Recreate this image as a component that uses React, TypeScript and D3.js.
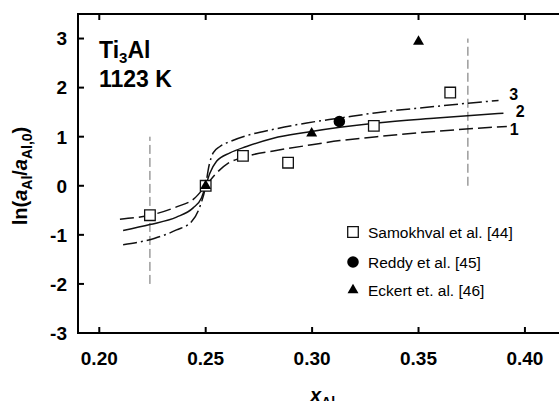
import React from "react";
import * as d3 from "d3";

const W = 559;
const H = 401;

const xTicks = [0.2, 0.25, 0.3, 0.35, 0.4];
const xTickLabels = ["0.20", "0.25", "0.30", "0.35", "0.40"];
const yTicks = [-3, -2, -1, 0, 1, 2, 3];
const yTickLabels = ["-3", "-2", "-1", "0", "1", "2", "3"];

// Model curves: [x_Al, ln(a/a0)]
const curve1: [number, number][] = [
  [0.2097, -0.68], [0.2238, -0.6], [0.2363, -0.43], [0.2449, -0.25], [0.25, 0.0],
  [0.2551, 0.26], [0.2606, 0.46], [0.2661, 0.56], [0.2708, 0.62], [0.2818, 0.71],
  [0.2975, 0.82], [0.3131, 0.92], [0.3304, 1.0], [0.3586, 1.11], [0.3915, 1.21],
];
const curve2: [number, number][] = [
  [0.2112, -0.91], [0.2238, -0.79], [0.2363, -0.64], [0.2441, -0.45], [0.248, -0.25],
  [0.25, 0.0], [0.252, 0.26], [0.2551, 0.5], [0.2614, 0.67], [0.2692, 0.8],
  [0.2818, 0.97], [0.2975, 1.09], [0.3131, 1.19], [0.3304, 1.28], [0.3586, 1.38],
  [0.3899, 1.48],
];
const curve3: [number, number][] = [
  [0.2112, -1.2], [0.2261, -1.07], [0.2363, -0.9], [0.2434, -0.73], [0.2473, -0.42],
  [0.25, 0.0], [0.2512, 0.33], [0.2535, 0.67], [0.2567, 0.8], [0.2614, 0.9],
  [0.2692, 1.02], [0.2818, 1.15], [0.2975, 1.28], [0.3131, 1.38], [0.3304, 1.49],
  [0.3586, 1.62], [0.3876, 1.74],
];
const curveLabels = ["1", "2", "3"];
const curveLabelPos: [number, number][] = [[0.395, 1.16], [0.3978, 1.52], [0.3947, 1.87]];

const samokhval: [number, number][] = [
  [0.2238, -0.6], [0.25, 0.0], [0.2675, 0.61], [0.2887, 0.47], [0.329, 1.22], [0.3649, 1.9],
];
const reddy: [number, number][] = [[0.3128, 1.31]];
const eckert: [number, number][] = [[0.25, 0.0], [0.2998, 1.07], [0.35, 2.94]];

const guideLines: [number, number, number][] = [
  [0.2238, -2, 1],
  [0.3732, 0, 3],
];

const legendNames = ["Samokhval et al. [44]", "Reddy et al. [45]", "Eckert et. al. [46]"];

const FONT = "'Liberation Sans', Arial, Helvetica, sans-serif";

export default function App() {
  const left = 78, right = 567.5, top = 14, bottom = 333;
  const x = d3.scaleLinear().domain([0.19, 0.42]).range([left, right]);
  const y = d3.scaleLinear().domain([-3, 3.5]).range([bottom, top]);

  const line = d3
    .line<[number, number]>()
    .x((d) => x(d[0]))
    .y((d) => y(d[1]))
    .curve(d3.curveMonotoneX);

  const sq = d3.symbol().type(d3.symbolSquare).size(112)();
  const circ = d3.symbol().type(d3.symbolCircle).size(105)();
  const tri = d3.symbol().type(d3.symbolTriangle).size(52)();

  const curves = [
    { data: curve1, dash: "14,5" },
    { data: curve2, dash: "none" },
    { data: curve3, dash: "14,4,2,4" },
  ];

  const tickLen = 6;
  const legX = 353;
  const legY = [232, 262, 290];

  return (
    <svg
      width={W}
      height={H}
      style={{ position: "absolute", left: 0, top: 0, background: "#fff" }}
      fontFamily={FONT}
    >
      <rect x={0} y={0} width={W} height={H} fill="#fff" />
      {/* guide lines */}
      {guideLines.map((g, i) => (
        <line
          key={"g" + i}
          x1={x(g[0])}
          x2={x(g[0])}
          y1={y(g[1])}
          y2={y(g[2])}
          stroke="#6a6a6a"
          strokeWidth={1}
          strokeDasharray="9,4"
        />
      ))}
      {/* curves */}
      {curves.map((c, i) => (
        <path
          key={"c" + i}
          d={line(c.data) || ""}
          fill="none"
          stroke="#111"
          strokeWidth={1.5}
          strokeDasharray={c.dash}
        />
      ))}
      {curveLabels.map((t, i) => (
        <text
          key={"cl" + i}
          x={x(curveLabelPos[i][0])}
          y={y(curveLabelPos[i][1])}
          dy="0.36em"
          textAnchor="middle"
          fontWeight="bold"
          fontSize={16}
        >
          {t}
        </text>
      ))}
      {/* data points */}
      {samokhval.map((d, i) => (
        <path
          key={"s" + i}
          d={sq || ""}
          transform={`translate(${x(d[0])},${y(d[1])})`}
          fill="#fff"
          stroke="#111"
          strokeWidth={1.3}
        />
      ))}
      {reddy.map((d, i) => (
        <path key={"r" + i} d={circ || ""} transform={`translate(${x(d[0])},${y(d[1])})`} fill="#000" />
      ))}
      {eckert.map((d, i) => (
        <path key={"e" + i} d={tri || ""} transform={`translate(${x(d[0])},${y(d[1])})`} fill="#000" />
      ))}
      {/* frame */}
      <rect
        x={left}
        y={top}
        width={right - left}
        height={bottom - top}
        fill="none"
        stroke="#000"
        strokeWidth={2}
      />
      {xTicks.map((t, i) => (
        <g key={"xt" + i}>
          <line x1={x(t)} x2={x(t)} y1={bottom} y2={bottom - tickLen} stroke="#000" strokeWidth={2} />
          <line x1={x(t)} x2={x(t)} y1={top} y2={top + tickLen} stroke="#000" strokeWidth={2} />
          <text x={x(t)} y={365} textAnchor="middle" fontWeight="bold" fontSize={19}>
            {xTickLabels[i]}
          </text>
        </g>
      ))}
      {yTicks.map((t, i) => (
        <g key={"yt" + i}>
          {t > -3 && (
            <line x1={left} x2={left + tickLen} y1={y(t)} y2={y(t)} stroke="#000" strokeWidth={2} />
          )}
          <text x={67} y={y(t)} dy="0.36em" textAnchor="end" fontWeight="bold" fontSize={19}>
            {yTickLabels[i]}
          </text>
        </g>
      ))}
      {/* annotation */}
      <text x={99} y={58} fontWeight="bold" fontSize={23}>
        Ti
        <tspan fontSize={15} dy={5}>3</tspan>
        <tspan dy={-5}>Al</tspan>
      </text>
      <text x={99} y={87} fontWeight="bold" fontSize={23}>
        1123 K
      </text>
      {/* legend */}
      <path d={sq || ""} transform={`translate(${legX},${legY[0]})`} fill="#fff" stroke="#111" strokeWidth={1.3} />
      <path d={circ || ""} transform={`translate(${legX},${legY[1]})`} fill="#000" />
      <path d={tri || ""} transform={`translate(${legX},${legY[2]})`} fill="#000" />
      {legendNames.map((n, i) => (
        <text key={"ln" + i} x={legX + 15} y={legY[i]} dy="0.36em" fontSize={15.5}>
          {n}
        </text>
      ))}
      {/* axis titles */}
      <text x={310} y={402} fontWeight="bold" fontSize={20}>
        <tspan fontStyle="italic">x</tspan>
        <tspan fontSize={14} dy={5}>Al</tspan>
      </text>
      <text
        transform={`translate(27,176) rotate(-90)`}
        textAnchor="middle"
        fontWeight="bold"
        fontSize={20}
      >
        ln(
        <tspan fontStyle="italic">a</tspan>
        <tspan fontSize={14} dy={5}>Al</tspan>
        <tspan dy={-5}>/</tspan>
        <tspan fontStyle="italic">a</tspan>
        <tspan fontSize={14} dy={5}>Al,0</tspan>
        <tspan dy={-5}>)</tspan>
      </text>
    </svg>
  );
}
